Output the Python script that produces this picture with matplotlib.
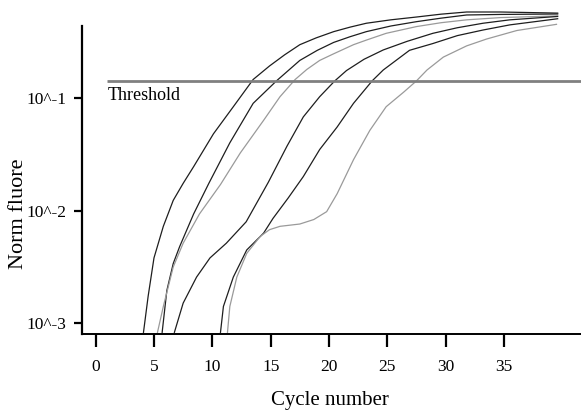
import numpy as np
import matplotlib
matplotlib.use('Agg')
import matplotlib.pyplot as plt

plt.rcParams['font.family'] = ['Liberation Serif', 'DejaVu Serif']

# amplification curves (cycle, normalised fluorescence)
cyc_a = [4.1, 4.5, 5.0, 5.8, 6.65, 7.5, 8.4, 10.1, 11.8, 13.5, 14.9, 16.2, 17.5, 18.9, 20.4,
         21.8, 23.2, 25.3, 27.5, 29.6, 31.8, 34.7, 37.0, 39.6]
flu_a = [0.000832, 0.00174, 0.00380, 0.00724, 0.0123, 0.0174, 0.0245, 0.0479, 0.0832, 0.145,
         0.191, 0.240, 0.295, 0.339, 0.385, 0.422, 0.457, 0.490, 0.519, 0.550, 0.575, 0.575,
         0.569, 0.562]

cyc_b = [5.7, 6.1, 6.65, 7.2, 8.4, 9.7, 11.5, 13.5, 15.5, 17.5, 19.0, 20.4, 21.8, 23.2, 25.3,
         27.5, 29.6, 31.8, 34.7, 39.6]
flu_b = [0.000832, 0.00195, 0.00339, 0.00479, 0.00933, 0.0174, 0.0398, 0.0891, 0.141, 0.214,
         0.263, 0.309, 0.347, 0.385, 0.432, 0.472, 0.507, 0.541, 0.547, 0.552]

cyc_c = [5.3, 5.8, 6.65, 7.5, 8.9, 10.7, 12.4, 14.4, 15.8, 17.1, 18.1, 19.2, 20.4, 22.1, 23.2,
         24.9, 27.5, 29.6, 31.8, 34.7, 39.6]
flu_c = [0.000832, 0.00141, 0.00316, 0.00513, 0.00933, 0.0170, 0.0324, 0.0631, 0.102, 0.145,
         0.178, 0.214, 0.245, 0.295, 0.324, 0.372, 0.427, 0.462, 0.490, 0.513, 0.531]

cyc_d = [6.75, 7.5, 8.65, 9.8, 11.2, 12.9, 14.8, 16.4, 17.8, 19.2, 20.5, 21.5, 23.0, 24.65,
         26.7, 28.9, 31.0, 33.2, 35.5, 39.6]
flu_d = [0.000832, 0.00151, 0.00257, 0.00380, 0.00513, 0.00794, 0.0178, 0.0372, 0.0676, 0.102,
         0.141, 0.174, 0.219, 0.265, 0.316, 0.372, 0.417, 0.457, 0.490, 0.525]

cyc_e = [10.7, 10.95, 11.8, 12.95, 14.4, 15.2, 16.5, 17.8, 19.2, 20.7, 22.1, 23.7, 24.65, 26.9,
         28.9, 31.0, 33.2, 35.5, 39.6]
flu_e = [0.000832, 0.00141, 0.00257, 0.00447, 0.00631, 0.00851, 0.0129, 0.0200, 0.0347, 0.0550,
         0.0891, 0.141, 0.176, 0.263, 0.302, 0.355, 0.398, 0.442, 0.501]

cyc_f = [11.3, 11.5, 12.1, 12.95, 14.1, 14.9, 15.8, 17.5, 18.7, 19.8, 20.7, 22.1, 23.5, 24.9,
         26.4, 27.5, 28.4, 29.8, 31.8, 33.5, 36.1, 39.5]
flu_f = [0.000832, 0.00141, 0.00257, 0.00417, 0.00589, 0.00676, 0.00724, 0.00759, 0.00832,
         0.00977, 0.0141, 0.0282, 0.0513, 0.0832, 0.112, 0.141, 0.176, 0.229, 0.288, 0.331,
         0.394, 0.447]

threshold = 0.1416
x_ticks = [0, 5, 10, 15, 20, 25, 30, 35]
y_ticks = [1e-3, 1e-2, 1e-1]
y_labels = ['10^-3', '10^-2', '10^-1']

fig = plt.figure(figsize=(5.81, 4.11), dpi=100)
ax = fig.add_axes([82/581, 1 - 333.7/411, 499/581, 333.7/411])

dark = '#1e1e1e'
light = '#9a9a9a'
for c, f, col in [(cyc_a, flu_a, dark), (cyc_b, flu_b, dark), (cyc_c, flu_c, light),
                  (cyc_d, flu_d, dark), (cyc_e, flu_e, dark), (cyc_f, flu_f, light)]:
    ax.plot(c, f, color=col, lw=0.9, solid_joinstyle='round')

ax.set_yscale('log')
ax.set_xlim(-1.17, 41.6)
ax.set_ylim(10**-3.092, 10**-0.134)

ax.hlines(threshold, 1.0, 41.6, color='#808080', lw=2)
ax.text(1.0, 0.1245, 'Threshold', fontsize=13, ha='left', va='top')

ax.set_xticks(x_ticks)
ax.set_yticks(y_ticks)
ax.set_yticklabels(y_labels)
ax.yaxis.set_minor_locator(matplotlib.ticker.NullLocator())
ax.tick_params(axis='x', length=9.5, width=1.6, pad=9, labelsize=12.5)
ax.tick_params(axis='y', length=6, width=1.6, pad=5, labelsize=12.5)

for s in ['top', 'right']:
    ax.spines[s].set_visible(False)
ax.spines['left'].set_linewidth(1.6)
ax.spines['bottom'].set_linewidth(1.4)
ax.spines['left'].set_bounds(10**-3.092, 10**-0.364)

ax.set_xlabel('Cycle number', fontsize=15)
ax.xaxis.set_label_coords(0.497, -0.172)
ax.set_ylabel('Norm fluore', fontsize=16)
ax.yaxis.set_label_coords(-0.108, 0.359)

plt.savefig('out.png', dpi=100)
